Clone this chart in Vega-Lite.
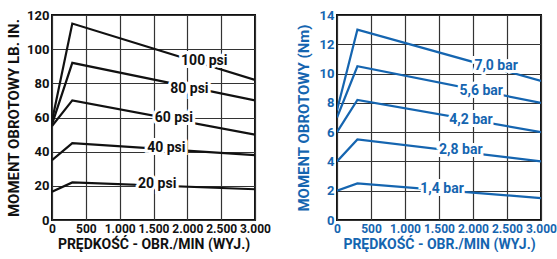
{
  "$schema": "https://vega.github.io/schema/vega-lite/v6.json",
  "padding": {"left": 5, "top": 8, "right": 0, "bottom": 0},
  "background": "white",
  "spacing": 82,
  "bounds": "flush",
  "config": {
    "font": "Roboto, Liberation Sans, sans-serif",
    "view": {"stroke": "#111", "strokeWidth": 2},
    "axis": {
      "labelFontWeight": "bold", "titleFontWeight": "bold",
      "labelFontSize": 13, "titleFontSize": 14,
      "domain": false, "ticks": false, "labelPadding": 3, "labelOverlap": false
    },
    "axisX": {"labelFontSize": 12}
  },
  "datasets": {
    "lb": [
      {"p": "100 psi", "x": 0, "y": 58}, {"p": "100 psi", "x": 300, "y": 115}, {"p": "100 psi", "x": 3000, "y": 82},
      {"p": "80 psi", "x": 0, "y": 56}, {"p": "80 psi", "x": 300, "y": 92}, {"p": "80 psi", "x": 3000, "y": 70},
      {"p": "60 psi", "x": 0, "y": 55}, {"p": "60 psi", "x": 300, "y": 70}, {"p": "60 psi", "x": 3000, "y": 50},
      {"p": "40 psi", "x": 0, "y": 35}, {"p": "40 psi", "x": 300, "y": 45}, {"p": "40 psi", "x": 3000, "y": 38},
      {"p": "20 psi", "x": 0, "y": 16.5}, {"p": "20 psi", "x": 300, "y": 22}, {"p": "20 psi", "x": 3000, "y": 18}
    ],
    "lbl": [
      {"t": "100 psi", "x": 2250, "y": 93},
      {"t": "80 psi", "x": 2030, "y": 76.5},
      {"t": "60 psi", "x": 1800, "y": 59.5},
      {"t": "40 psi", "x": 1690, "y": 42},
      {"t": "20 psi", "x": 1555, "y": 21}
    ],
    "nm": [
      {"p": "7,0 bar", "x": 0, "y": 7.5}, {"p": "7,0 bar", "x": 300, "y": 13}, {"p": "7,0 bar", "x": 3000, "y": 9.5},
      {"p": "5,6 bar", "x": 0, "y": 7}, {"p": "5,6 bar", "x": 300, "y": 10.5}, {"p": "5,6 bar", "x": 3000, "y": 8},
      {"p": "4,2 bar", "x": 0, "y": 6}, {"p": "4,2 bar", "x": 300, "y": 8.2}, {"p": "4,2 bar", "x": 3000, "y": 6},
      {"p": "2,8 bar", "x": 0, "y": 4}, {"p": "2,8 bar", "x": 300, "y": 5.5}, {"p": "2,8 bar", "x": 3000, "y": 4},
      {"p": "1,4 bar", "x": 0, "y": 2}, {"p": "1,4 bar", "x": 300, "y": 2.5}, {"p": "1,4 bar", "x": 3000, "y": 1.5}
    ],
    "nml": [
      {"t": "7,0 bar", "x": 2340, "y": 10.5},
      {"t": "5,6 bar", "x": 2120, "y": 8.8},
      {"t": "4,2 bar", "x": 1970, "y": 6.8},
      {"t": "2,8 bar", "x": 1820, "y": 4.8},
      {"t": "1,4 bar", "x": 1545, "y": 2.1}
    ]
  },
  "hconcat": [
    {
      "width": 203, "height": 205,
      "encoding": {
        "x": {"field": "x", "type": "quantitative", "scale": {"domain": [0, 3000], "nice": false},
          "axis": {"grid": true, "gridColor": "#333", "gridWidth": 1.2, "gridOpacity": 1, "values": [0, 500, 1000, 1500, 2000, 2500, 3000], "labelExpr": "replace(format(datum.value, ','), ',', '.')", "title": "PRĘDKOŚĆ - OBR./MIN (WYJ.)", "labelColor": "#111", "titleColor": "#111", "labelFlush": false, "titlePadding": 3}},
        "y": {"field": "y", "type": "quantitative", "scale": {"domain": [0, 120], "nice": false},
          "axis": {"grid": true, "gridColor": "#333", "gridWidth": 1.2, "gridOpacity": 1, "values": [0, 20, 40, 60, 80, 100, 120], "title": "MOMENT OBROTOWY LB. IN.", "labelColor": "#111", "titleColor": "#111", "titlePadding": 5, "titleFontSize": 15}}
      },
      "layer": [
        {
          "data": {"name": "lb"},
          "mark": {"type": "line", "color": "#111", "strokeWidth": 2.2, "clip": true},
          "encoding": {"detail": {"field": "p"}}
        },
        {
          "data": {"name": "lbl"},
          "mark": {"type": "text", "fontSize": 14, "fontWeight": "bold", "stroke": "white", "strokeWidth": 6, "color": "white"},
          "encoding": {"text": {"field": "t"}}
        },
        {
          "data": {"name": "lbl"},
          "mark": {"type": "text", "fontSize": 14, "fontWeight": "bold", "color": "#111"},
          "encoding": {"text": {"field": "t"}}
        }
      ]
    },
    {
      "width": 204, "height": 205,
      "encoding": {
        "x": {"field": "x", "type": "quantitative", "scale": {"domain": [0, 3000], "nice": false},
          "axis": {"grid": true, "gridColor": "#333", "gridWidth": 1.2, "gridOpacity": 1, "values": [0, 500, 1000, 1500, 2000, 2500, 3000], "labelExpr": "replace(format(datum.value, ','), ',', '.')", "title": "PRĘDKOŚĆ - OBR./MIN (WYJ.)", "labelColor": "#1565b0", "titleColor": "#1565b0", "labelFlush": false, "titlePadding": 3}},
        "y": {"field": "y", "type": "quantitative", "scale": {"domain": [0, 14], "nice": false},
          "axis": {"grid": true, "gridColor": "#333", "gridWidth": 1.2, "gridOpacity": 1, "values": [0, 2, 4, 6, 8, 10, 12, 14], "title": "MOMENT OBROTOWY (Nm)", "labelColor": "#1565b0", "titleColor": "#1565b0", "titlePadding": 8, "titleFontSize": 15}}
      },
      "layer": [
        {
          "data": {"name": "nm"},
          "mark": {"type": "line", "color": "#1565b0", "strokeWidth": 2.2, "clip": true},
          "encoding": {"detail": {"field": "p"}}
        },
        {
          "data": {"name": "nml"},
          "mark": {"type": "text", "fontSize": 14, "fontWeight": "bold", "stroke": "white", "strokeWidth": 6, "color": "white"},
          "encoding": {"text": {"field": "t"}}
        },
        {
          "data": {"name": "nml"},
          "mark": {"type": "text", "fontSize": 14, "fontWeight": "bold", "color": "#1565b0"},
          "encoding": {"text": {"field": "t"}}
        }
      ]
    }
  ]
}
